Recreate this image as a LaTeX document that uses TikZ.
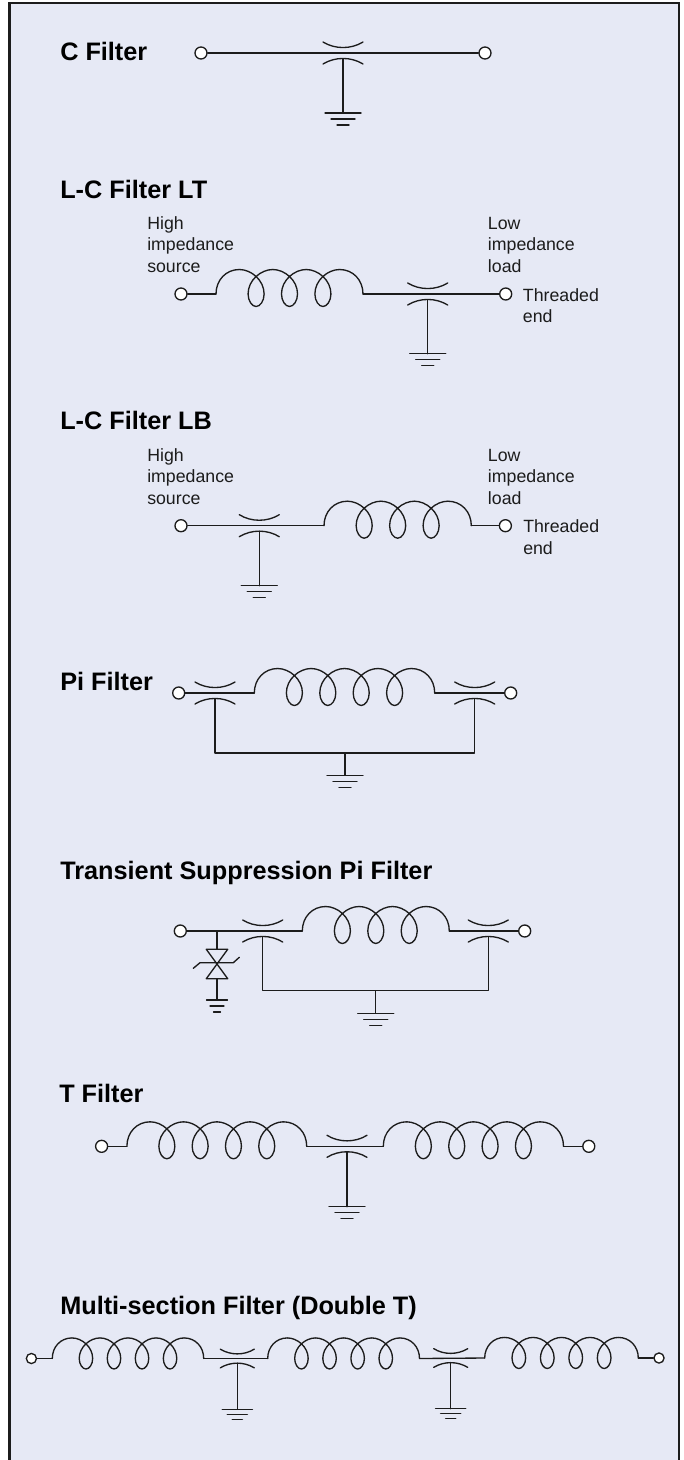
\documentclass[tikz,border=0pt]{standalone}
\usepackage{fontspec}
\setmainfont{Liberation Sans}
\definecolor{panel}{HTML}{E6E9F5}
\definecolor{ink}{HTML}{1C1C1C}

% inductor between two x positions on one wire height
\newcommand{\coil}[6][]{
  \pgfmathsetmacro{\coilpitch}{(#4-#3)/(#6+1.4)}
  \begin{scope}[shift={(#3,#5)},xscale=\coilpitch,#1]
    \coordinate (#2-in) at (0,0);
    \coordinate (#2-out) at (#6+1.4,0);
    \draw[wire] (0,0) .. controls (0,-14) and (.3,-24.5) .. (.7,-24.5);
    \foreach \i in {1,...,#6}{
      \pgfmathsetmacro{\c}{\i+.2}
      \draw[wire] (\c-.5,-24.5) .. controls (\c-.15,-24.5) and (\c+.24,-14) .. (\c+.24,0)
        .. controls (\c+.24,7) and (\c+.12,12.5) .. (\c,12.5)
        .. controls (\c-.12,12.5) and (\c-.24,7) .. (\c-.24,0)
        .. controls (\c-.24,-14) and (\c+.15,-24.5) .. (\c+.5,-24.5);
    }
    \draw[wire] (#6+.7,-24.5) .. controls (#6+1.1,-24.5) and (#6+1.4,-14) .. (#6+1.4,0);
  \end{scope}
}
\newcommand{\capacitor}[4][]{
  \begin{scope}[shift={(#3,#4)},#1]
    \coordinate (#2) at (0,0);
    \coordinate (#2-foot) at (0,5.7);
    \draw[wire] (-20,-11) .. controls (-8,-3.6) and (8,-3.6) .. (20,-11);
    \draw[wire] (-20,11) .. controls (-8,3.6) and (8,3.6) .. (20,11);
  \end{scope}
}
\newcommand{\earth}[4][]{
  \begin{scope}[shift={(#3,#4)},#1]
    \coordinate (#2) at (0,0);
    \draw[wire] (-18,0) -- (18,0);
    \draw[wire] (-12,6) -- (12,6);
    \draw[wire] (-6,12) -- (6,12);
  \end{scope}
}

\begin{document}
\begin{tikzpicture}[x=.75pt,y=-.75pt,
    wire/.style={draw=ink,line width=1pt,line cap=round,line join=round},
    terminal/.style={circle,draw=ink,fill=white,line width=1pt,inner sep=0pt,minimum size=9pt},
    smallterminal/.style={terminal,minimum size=7.6pt},
    heading/.style={anchor=base west,inner sep=0pt,text=black,font=\fontsize{18.95}{22}\selectfont\bfseries},
    note/.style={anchor=base west,inner sep=0pt,text=ink,align=left,font=\fontsize{13.3}{16.1}\selectfont}]
   \useasboundingbox (0,0) rectangle (684,1460);
   \fill[white] (0,0) rectangle (684,1460);
   \fill[panel] (9.5,3) rectangle (679,1460);
   \draw[ink,line width=2.1pt] (9.5,1460) -- (9.5,3) -- (679,3) -- (679,1460);

   % C filter
   \node[heading] (cHead) at (60,60.7) {C Filter};
   \node[terminal] (cIn) at (201,53) {};
   \node[terminal] (cOut) at (485,53) {};
   \capacitor{cCap}{343}{53}
   \earth{cGnd}{343}{113}
   \draw[wire] (cIn) -- (cOut);
   \draw[wire] (cCap-foot) -- (cGnd);

   % L-C filter LT
   \node[heading] (ltHead) at (60,198) {L-C Filter LT};
   \node[note] (ltSource) at (147,272) {High\\impedance\\source};
   \node[note] (ltLoad) at (487.7,272) {Low\\impedance\\load};
   \node[note] (ltEnd) at (522.7,322.7) {Threaded\\end};
   \node[terminal] (ltIn) at (181,294) {};
   \node[terminal] (ltOut) at (505.7,294) {};
   \coil{ltL}{216}{363}{294}{3}
   \capacitor{ltCap}{427.7}{294}
   \earth{ltGnd}{427.7}{353.7}
   \draw[wire] (ltIn) -- (ltL-in);
   \draw[wire] (ltL-out) -- (ltOut);
   \draw[wire] (ltCap-foot) -- (ltGnd);

   % L-C filter LB
   \node[heading] (lbHead) at (60,429) {L-C Filter LB};
   \node[note] (lbSource) at (147,504) {High\\impedance\\source};
   \node[note] (lbLoad) at (487.7,504) {Low\\impedance\\load};
   \node[note] (lbEnd) at (523,554.3) {Threaded\\end};
   \node[terminal] (lbIn) at (181,525.7) {};
   \node[terminal] (lbOut) at (505.4,525.7) {};
   \capacitor{lbCap}{259.3}{525.7}
   \coil{lbL}{324}{471.3}{525.7}{3}
   \earth{lbGnd}{259.3}{585.7}
   \draw[wire] (lbIn) -- (lbL-in);
   \draw[wire] (lbL-out) -- (lbOut);
   \draw[wire] (lbCap-foot) -- (lbGnd);

   % Pi filter
   \node[heading] (piHead) at (60,690) {Pi Filter};
   \node[terminal] (piIn) at (178.7,693) {};
   \node[terminal] (piOut) at (510.7,693) {};
   \capacitor{piCapA}{215}{693}
   \capacitor{piCapB}{474.7}{693}
   \coil{piL}{254.3}{434.7}{693}{4}
   \coordinate (piBusA) at (215,753);
   \coordinate (piBusB) at (474.7,753);
   \coordinate (piTap) at (345,753);
   \earth{piGnd}{345}{775.3}
   \draw[wire] (piIn) -- (piL-in);
   \draw[wire] (piL-out) -- (piOut);
   \draw[wire] (piCapA-foot) -- (piBusA) -- (piBusB) -- (piCapB-foot);
   \draw[wire] (piTap) -- (piGnd);

   % transient suppression pi filter
   \node[heading] (tsHead) at (60,879) {Transient Suppression Pi Filter};
   \node[terminal] (tsIn) at (180.3,931) {};
   \node[terminal] (tsOut) at (524.7,931) {};
   \capacitor{tsCapA}{262.7}{931}
   \capacitor{tsCapB}{488.3}{931}
   \coil{tsL}{302.3}{449.3}{931}{3}
   \coordinate (tsTap) at (217,931);
   \coordinate (tvsTop) at (217,949.3);
   \coordinate (tvsBot) at (217,978.7);
   \draw[wire] (206.3,949.3) -- (227.7,949.3) -- (206.3,978.7) -- (227.7,978.7) -- cycle;
   \draw[wire] (193.3,968.3) -- (200,962.7) -- (233.3,962.7) -- (239.3,957.3);
   \earth[xscale=.58]{tvsGnd}{217}{1000}
   \coordinate (tsBusA) at (262.7,990.7);
   \coordinate (tsBusB) at (488.3,990.7);
   \coordinate (tsBusTap) at (375.7,990.7);
   \earth{tsGnd}{375.7}{1013.3}
   \draw[wire] (tsIn) -- (tsL-in);
   \draw[wire] (tsL-out) -- (tsOut);
   \draw[wire] (tsTap) -- (tvsTop);
   \draw[wire] (tvsBot) -- (tvsGnd);
   \draw[wire] (tsCapA-foot) -- (tsBusA) -- (tsBusB) -- (tsCapB-foot);
   \draw[wire] (tsBusTap) -- (tsGnd);

   % T filter
   \node[heading] (tHead) at (59,1102.7) {T Filter};
   \node[terminal] (tIn) at (101.6,1146.3) {};
   \node[terminal] (tOut) at (588.8,1146.3) {};
   \coil{tLA}{126.9}{306.7}{1146.3}{4}
   \coil{tLB}{383.3}{563.5}{1146.3}{4}
   \capacitor{tCap}{347}{1146.3}
   \earth{tGnd}{347}{1206.7}
   \draw[wire] (tIn) -- (tLA-in);
   \draw[wire] (tLA-out) -- (tLB-in);
   \draw[wire] (tLB-out) -- (tOut);
   \draw[wire] (tCap-foot) -- (tGnd);

   % double T
   \node[heading] (dtHead) at (60,1314) {Multi-section Filter (Double T)};
   \node[smallterminal] (dtIn) at (31.4,1358.5) {};
   \node[smallterminal] (dtOut) at (659,1358) {};
   \coil[yscale=.84]{dtLA}{52.3}{203.7}{1358.5}{4}
   \coil[yscale=.84]{dtLB}{267.7}{419.5}{1358.5}{4}
   \coil[yscale=.84]{dtLC}{484.7}{638.3}{1358}{4}
   \capacitor[scale=.85]{dtCapA}{237.3}{1358.5}
   \capacitor[scale=.85]{dtCapB}{450.7}{1358}
   \earth[scale=.84]{dtGndA}{237.3}{1409.3}
   \earth[scale=.84]{dtGndB}{450.7}{1408.7}
   \draw[wire] (dtIn) -- (dtLA-in);
   \draw[wire] (dtLA-out) -- (dtLB-in);
   \draw[wire] (dtLB-out) -- (dtLC-in);
   \draw[wire] (dtLC-out) -- (dtOut);
   \draw[wire] (dtCapA-foot) -- (dtGndA);
   \draw[wire] (dtCapB-foot) -- (dtGndB);
\end{tikzpicture}
\end{document}
